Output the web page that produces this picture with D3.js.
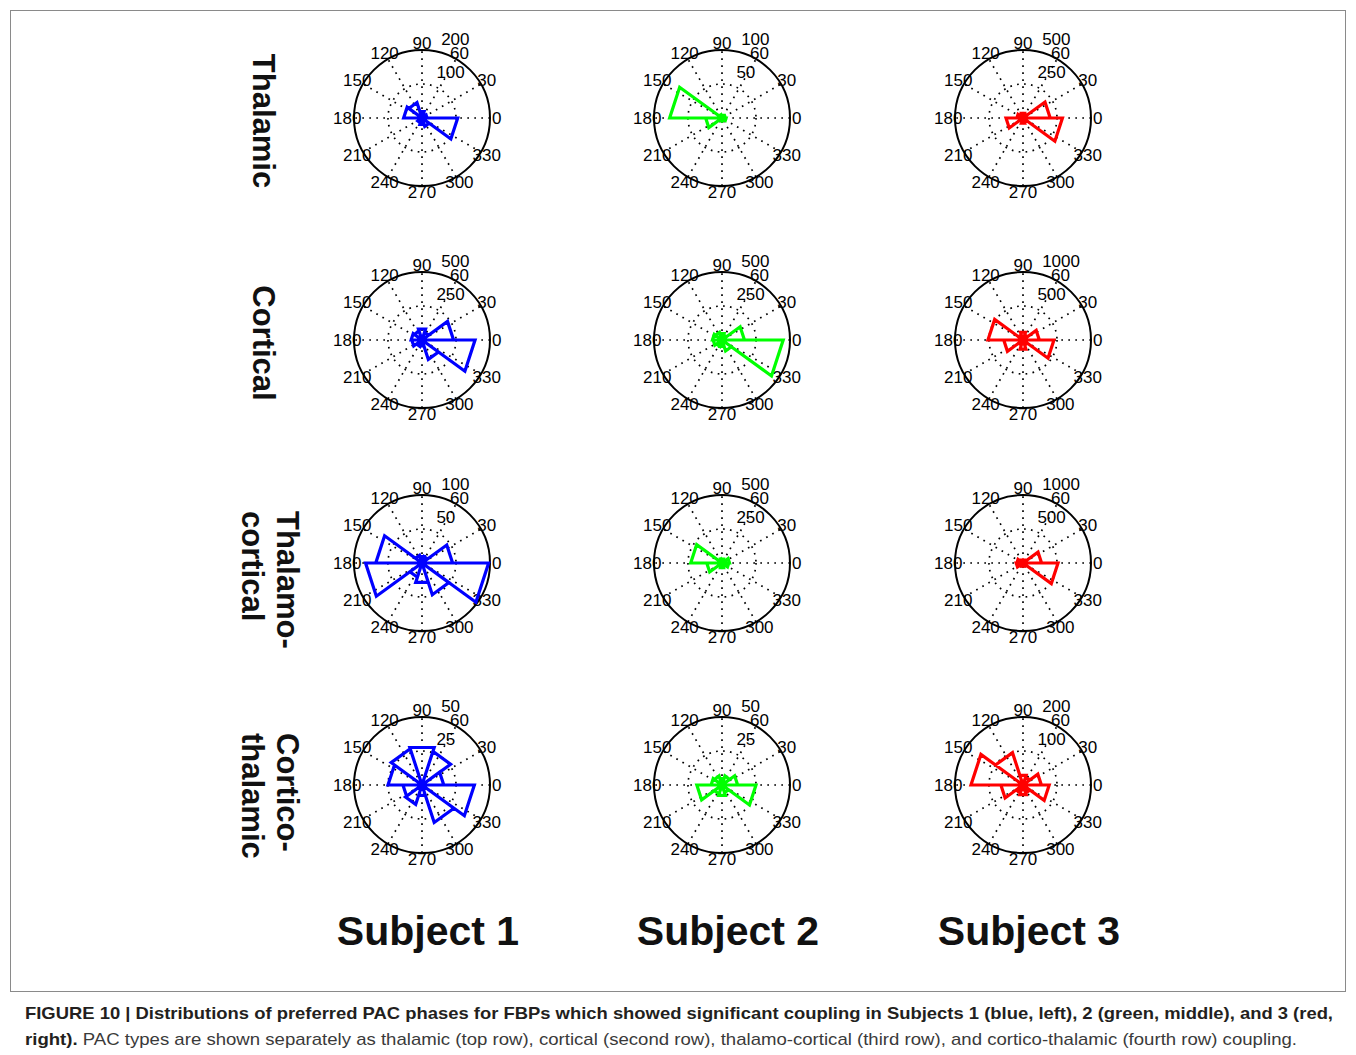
<!DOCTYPE html>
<html>
<head>
<meta charset="utf-8">
<script src="https://cdn.jsdelivr.net/npm/d3@7"></script>
<style>
  body { margin: 0; background: #fff; }
  svg { display: block; }
</style>
</head>
<body>
<svg id="fig" width="1356" height="1055"></svg>
<script>
// ---- data -------------------------------------------------------------
const subjects = ["Subject 1", "Subject 2", "Subject 3"];
const couplingTypes = [["Thalamic"], ["Cortical"], ["Thalamo-", "cortical"], ["Cortico-", "thalamic"]];
const subjectColors = ["#0000ff", "#00ff00", "#ff0000"];

// rose histogram bin edges (degrees), 10 bins of 36 degrees
const binEdges = [0, 36, 72, 108, 144, 180, 216, 252, 288, 324, 360];
// angular tick labels (degrees)
const angleTicks = [0, 30, 60, 90, 120, 150, 180, 210, 240, 270, 300, 330];

// counts per bin, bins starting at 0, 36, 72, ... 324 degrees
const thalamicS1 = [15, 12, 20, 48, 54, 12, 15, 20, 26, 105];
const thalamicS2 = [5, 3, 4, 5, 77, 24, 4, 3, 4, 6];
const thalamicS3 = [200, 30, 35, 30, 45, 125, 30, 40, 35, 290];

const corticalS1 = [232, 60, 85, 70, 80, 75, 50, 45, 150, 390];
const corticalS2 = [165, 40, 50, 60, 70, 65, 50, 50, 85, 450];
const corticalS3 = [240, 80, 120, 80, 515, 283, 80, 140, 80, 455];

const thalamoCorticalS1 = [45, 10, 10, 12, 68, 83, 22, 30, 49, 98];
const thalamoCorticalS2 = [55, 25, 30, 30, 230, 112, 30, 35, 30, 50];
const thalamoCorticalS3 = [273, 40, 45, 40, 90, 100, 40, 50, 40, 515];

const corticoThalamicS1 = [16, 26, 29, 28, 25, 14, 15, 8, 29, 38.5];
const corticoThalamicS2 = [11.5, 7, 5, 7, 8, 18.5, 7, 8, 6, 25];
const corticoThalamicS3 = [54, 25, 30, 100, 153, 65, 25, 30, 25, 77];

// outer radial limit of each panel (rows = coupling type, cols = subject)
const radialMax = [
  [200, 100, 500],
  [500, 500, 1000],
  [100, 500, 1000],
  [50, 50, 200]
];

const panelCounts = [
  [thalamicS1, thalamicS2, thalamicS3],
  [corticalS1, corticalS2, corticalS3],
  [thalamoCorticalS1, thalamoCorticalS2, thalamoCorticalS3],
  [corticoThalamicS1, corticoThalamicS2, corticoThalamicS3]
];

const captionBold = "FIGURE 10 | Distributions of preferred PAC phases for FBPs which showed significant coupling in Subjects 1 (blue, left), 2 (green, middle), and 3 (red,";
const captionBold2 = "right).";
const captionRest = " PAC types are shown separately as thalamic (top row), cortical (second row), thalamo-cortical (third row), and cortico-thalamic (fourth row) coupling.";

// ---- layout -----------------------------------------------------------
const colX = [422, 722, 1023];
const rowY = [118, 340, 563, 785];
const R = 68;
const FONT = "'Liberation Sans', Arial, Helvetica, sans-serif";
const rad = d => d * Math.PI / 180;

const svg = d3.select("#fig");

// figure frame
svg.append("rect")
  .attr("x", 10.5).attr("y", 10.5)
  .attr("width", 1335).attr("height", 981)
  .attr("fill", "none").attr("stroke", "#8a8a8a").attr("stroke-width", 1);

function drawRose(g, counts, rmax, color) {
  const r = d3.scaleLinear().domain([0, rmax]).range([0, R]);
  const ringStep = rmax / 2;
  const rings = [ringStep, rmax];

  // dotted spokes every 30 degrees, spanning the full diameter
  [30, 60, 90, 120, 150, 180].forEach(a => {
    const x = r(rmax) * Math.cos(rad(a)), y = -r(rmax) * Math.sin(rad(a));
    g.append("line")
      .attr("x1", -x).attr("y1", -y).attr("x2", x).attr("y2", y)
      .attr("stroke", "#000").attr("stroke-width", 1.7)
      .attr("stroke-dasharray", "1.7 5.3");
  });

  // radial rings: inner dotted, outer solid
  rings.forEach((v, i) => {
    g.append("circle")
      .attr("r", r(v))
      .attr("fill", "none")
      .attr("stroke", "#000")
      .attr("stroke-width", i === rings.length - 1 ? 2 : 1.7)
      .attr("stroke-dasharray", i === rings.length - 1 ? null : "1.7 5.3");
  });

  // ring labels at 82 degrees
  rings.forEach(v => {
    const rr = r(v + ringStep / 20);
    g.append("text")
      .attr("x", rr * Math.cos(rad(82)))
      .attr("y", -rr * Math.sin(rad(82)) - 4.2)
      .attr("font-family", FONT).attr("font-size", 17)
      .attr("xml:space", "preserve")
      .style("white-space", "pre")
      .text("  " + v);
  });

  // angle labels at 1.1 * rmax
  angleTicks.forEach(a => {
    const rr = r(rmax * 1.1);
    g.append("text")
      .attr("x", rr * Math.cos(rad(a)))
      .attr("y", -rr * Math.sin(rad(a)))
      .attr("text-anchor", "middle")
      .attr("dominant-baseline", "central")
      .attr("font-family", FONT).attr("font-size", 17)
      .text(a);
  });

  // rose outline: origin -> bin edge -> next bin edge -> origin, for every bin
  const pts = [];
  counts.forEach((c, k) => {
    pts.push({ a: binEdges[k], v: 0 });
    pts.push({ a: binEdges[k], v: c });
    pts.push({ a: binEdges[k + 1], v: c });
    pts.push({ a: binEdges[k + 1], v: 0 });
  });
  const rose = d3.lineRadial()
    .angle(d => Math.PI / 2 - rad(d.a))
    .radius(d => r(d.v));
  g.append("path")
    .attr("d", rose(pts))
    .attr("fill", "none")
    .attr("stroke", color)
    .attr("stroke-width", 3.2)
    .attr("stroke-linejoin", "miter")
    .attr("stroke-miterlimit", 3);
}

panelCounts.forEach((row, i) => {
  row.forEach((counts, j) => {
    const g = svg.append("g").attr("transform", `translate(${colX[j]},${rowY[i]})`);
    drawRose(g, counts, radialMax[i][j], subjectColors[j]);
  });
});

// row titles, rotated to read top to bottom
couplingTypes.forEach((lines, i) => {
  if (lines.length === 1) {
    svg.append("text")
      .attr("transform", `translate(263,${rowY[i] + 3}) rotate(90)`)
      .attr("text-anchor", "middle")
      .attr("dominant-baseline", "central")
      .attr("font-family", FONT).attr("font-size", 31).attr("font-weight", "bold")
      .attr("fill", "#111")
      .text(lines[0]);
  } else {
    const xs = [287, 252];
    lines.forEach((t, k) => {
      svg.append("text")
        .attr("transform", `translate(${xs[k]},${rowY[i] - 52}) rotate(90)`)
        .attr("text-anchor", "start")
        .attr("dominant-baseline", "central")
        .attr("font-family", FONT).attr("font-size", 31).attr("font-weight", "bold")
        .attr("fill", "#111")
        .text(t);
    });
  }
});

// subject titles
subjects.forEach((s, j) => {
  svg.append("text")
    .attr("x", colX[j] + 6).attr("y", 945)
    .attr("text-anchor", "middle")
    .attr("font-family", FONT).attr("font-size", 41).attr("font-weight", "bold")
    .attr("fill", "#111")
    .text(s);
});

// caption
svg.append("text")
  .attr("x", 25).attr("y", 1019)
  .attr("font-family", FONT).attr("font-size", 17).attr("font-weight", "bold")
  .attr("fill", "#231f20")
  .attr("textLength", 1308).attr("lengthAdjust", "spacingAndGlyphs")
  .text(captionBold);

const cap2 = svg.append("text")
  .attr("x", 25).attr("y", 1045)
  .attr("font-family", FONT).attr("font-size", 17)
  .attr("fill", "#3a3a3a")
  .attr("textLength", 1272).attr("lengthAdjust", "spacingAndGlyphs");
cap2.append("tspan").attr("font-weight", "bold").attr("fill", "#231f20").text(captionBold2);
cap2.append("tspan").attr("xml:space", "preserve").text(captionRest);
</script>
</body>
</html>
